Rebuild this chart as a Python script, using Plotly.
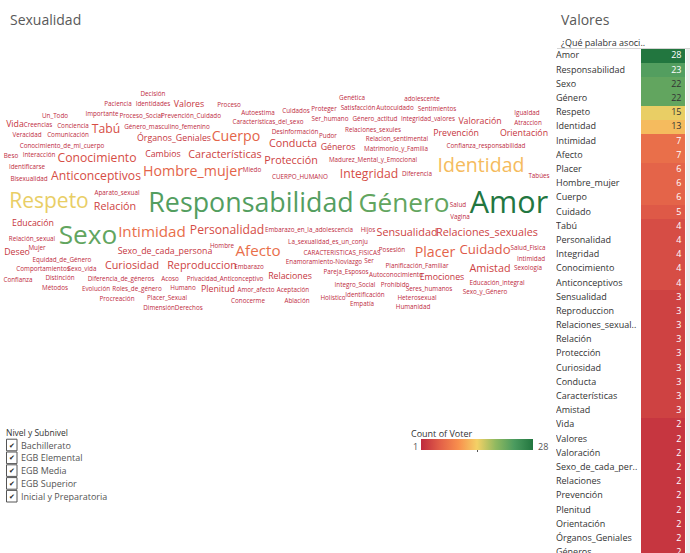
import numpy as np
import plotly.graph_objects as go
from plotly.colors import sample_colorscale

# ---------------- DATA ----------------
# Word cloud: words and their vote counts
cloud_words = [
    "Amor", "Responsabilidad", "Sexo", "Género", "Respeto", "Identidad",
    "Intimidad", "Afecto", "Placer", "Hombre_mujer", "Cuerpo", "Cuidado",
    "Tabú", "Personalidad", "Integridad", "Conocimiento", "Anticonceptivos",
    "Sensualidad", "Reproduccion", "Relaciones_sexuales", "Relación", "Protección",
    "Curiosidad", "Conducta", "Características", "Amistad",
    "Vida", "Valores", "Valoración", "Sexo_de_cada_persona", "Relaciones",
    "Prevención", "Plenitud", "Orientación", "Órganos_Geniales", "Géneros",
    "Emociones", "Educación", "Deseo", "Cambios",
    "Decisión", "Paciencia", "Identidades", "Proceso", "Un_Todo", "Importante",
    "Proceso_Social", "Prevención_Cuidado", "Autoestima", "Creencias", "Conciencia",
    "Género_masculino_femenino", "Características_del_sexo", "Veracidad",
    "Comunicación", "Conocimiento_de_mi_cuerpo", "Beso", "Interacción",
    "Identificarse", "Miedo", "Bisexualidad", "Genética", "adolescente",
    "Cuidados", "Proteger", "Satisfacción", "Autocuidado", "Sentimientos",
    "Igualdad", "Ser_humano", "Género_actitud", "Integridad_valores", "Atraccion",
    "Desinformación", "Pudor", "Relaciones_sexules", "Relacion_sentimental",
    "Matrimonio_y_Familia", "Confianza_responsabilidad", "Madurez_Mental_y_Emocional",
    "Tabúes", "CUERPO_HUMANO", "Diferencia", "Aparato_sexual", "Relación_sexual",
    "Embarazo_en_la_adolescencia", "Mujer", "Hombre", "Equidad_de_Género",
    "Embarazo", "Comportamientos", "Sexo_vida", "Confianza", "Distinción",
    "Diferencia_de_géneros", "Acoso", "Privacidad_Anticonceptivo", "Métodos",
    "Evolución", "Roles_de_género", "Humano", "Amor_afecto", "Procreación",
    "Placer_Sexual", "Conocerme", "DimensiónDerechos", "Salud", "Vagina", "Hijos",
    "La_sexualidad_es_un_conju", "CARACTERISTICAS_FISICAS", "Posesión",
    "Salud_Fisica", "Intimidad ", "Enamoramiento-Noviazgo", "Ser",
    "Planificación_Familiar", "Sexología", "Pareja_Esposos", "Autoconocimiento",
    "Educación_integral", "Integro_Social", "Prohibido", "Seres_humanos",
    "Sexo_y_Género", "Aceptación", "Ablación", "Holístico", "Identificación",
    "Heterosexual", "Empatía", "Humanidad",
]
cloud_counts = (
    [28, 23, 22, 22, 15, 13, 7, 7, 6, 6, 6, 5, 4, 4, 4, 4, 4,
     3, 3, 3, 3, 3, 3, 3, 3, 3,
     2, 2, 2, 2, 2, 2, 2, 2, 2, 2, 2, 2, 2, 2]
    + [1] * 92
)

# Table (sorted list of the most voted words)
table_labels = [
    "Amor", "Responsabilidad", "Sexo", "Género", "Respeto", "Identidad",
    "Intimidad", "Afecto", "Placer", "Hombre_mujer", "Cuerpo", "Cuidado",
    "Tabú", "Personalidad", "Integridad", "Conocimiento", "Anticonceptivos",
    "Sensualidad", "Reproduccion", "Relaciones_sexual..", "Relación", "Protección",
    "Curiosidad", "Conducta", "Características", "Amistad", "Vida", "Valores",
    "Valoración", "Sexo_de_cada_per..", "Relaciones", "Prevención", "Plenitud",
    "Orientación", "Órganos_Geniales", "Géneros",
]
table_counts = [28, 23, 22, 22, 15, 13, 7, 7, 6, 6, 6, 5, 4, 4, 4, 4, 4,
                3, 3, 3, 3, 3, 3, 3, 3, 3, 2, 2, 2, 2, 2, 2, 2, 2, 2, 2]

filter_title = "Nivel y Subnivel"
filter_items = ["Bachillerato", "EGB Elemental", "EGB Media", "EGB Superior",
                "Inicial y Preparatoria"]

# ---------------- LAYOUT (word-cloud placement, pixels) ----------------
cloud_xy = [
    (509, 205), (251, 205), (88, 237), (404, 205), (49, 203), (481, 167),
    (152, 233), (258, 252), (435, 253), (193, 172), (236, 137), (485, 251),
    (106, 130), (227, 231), (369, 175), (97, 159), (96, 177),
    (407, 233), (202, 266), (487, 233), (115, 207), (291, 161),
    (132, 266), (293, 144), (225, 155), (490, 269),
    (15, 125), (189, 105), (480, 122), (165, 252), (290, 277),
    (456, 134), (218, 290), (524, 134), (174, 139), (338, 148),
    (442, 278), (33, 224), (17, 253), (163, 155),
    (153, 94), (118, 104), (153, 104), (229, 105), (55, 116), (102, 114),
    (141, 116), (191, 116), (258, 113), (38, 125), (73, 126),
    (167, 127), (268, 122), (27, 135),
    (68, 135), (62, 146), (11, 156), (39, 155),
    (27, 167), (252, 170), (29, 179), (352, 98), (422, 99),
    (296, 111), (324, 109), (358, 108), (395, 108), (437, 109),
    (527, 113), (330, 119), (375, 119), (428, 119), (528, 123),
    (295, 132), (328, 136), (373, 130), (397, 139),
    (396, 149), (486, 146), (373, 160),
    (539, 176), (300, 177), (417, 174), (117, 193), (32, 239),
    (309, 230), (37, 248), (222, 246), (62, 260),
    (249, 267), (43, 269), (82, 269), (18, 280), (60, 278),
    (121, 279), (170, 279), (225, 279), (55, 288),
    (96, 289), (137, 289), (183, 288), (256, 290), (117, 299),
    (167, 298), (248, 301), (173, 308), (458, 205), (460, 217), (368, 230),
    (328, 242), (342, 253), (392, 250),
    (528, 248), (531, 259), (324, 262), (369, 261),
    (417, 266), (528, 268), (346, 272), (396, 275),
    (497, 283), (355, 285), (395, 285), (429, 289),
    (485, 292), (293, 290), (297, 301), (333, 298), (365, 295),
    (417, 298), (362, 304), (413, 307),
]

# ---------------- STYLE ----------------
FONT = "Open Sans"
palette = ["#be2a3e", "#e25f48", "#f88f4d", "#f4d166", "#90b960", "#4b9b5f", "#22763f"]
colorscale = [[i / (len(palette) - 1), c] for i, c in enumerate(palette)]
cmin, cmax = 1, 28
size_anchor_counts = [1, 2, 3, 4, 7, 15, 22, 23, 28]
size_anchor_px = [6.3, 8.8, 10.8, 12.2, 15.2, 21, 26.2, 26.8, 30.5]

W, H = 690, 553


def color_of(v):
    return sample_colorscale(colorscale, [(v - cmin) / (cmax - cmin)])[0]


fig = go.Figure()

# Word cloud
wx = [p[0] for p in cloud_xy]
wy = [p[1] for p in cloud_xy]
sizes = list(np.interp(cloud_counts, size_anchor_counts, size_anchor_px))
colors = [color_of(c) for c in cloud_counts]
fig.add_trace(go.Scatter(
    x=wx, y=wy, mode="text", text=[w.strip() for w in cloud_words],
    textposition="middle center",
    textfont=dict(family=FONT, size=sizes, color=colors),
    hoverinfo="text", hovertext=[f"{w}: {c}" for w, c in zip(cloud_words, cloud_counts)],
    showlegend=False, xaxis="x", yaxis="y",
))

# Table heat column
n = len(table_labels)
rows = list(range(n))
fig.add_trace(go.Heatmap(
    z=[[v] for v in table_counts], x=[0], y=rows,
    colorscale=colorscale, zmin=cmin, zmax=cmax,
    xgap=0, ygap=0, xaxis="x2", yaxis="y2", hoverinfo="skip",
    colorbar=dict(
        orientation="h", x=(421 + 533) / 2 / W, xanchor="center",
        y=1 - 452 / H, yanchor="bottom", len=112 / W, lenmode="fraction",
        thickness=11, thicknessmode="pixels", outlinewidth=0,
        xpad=0, ypad=0, tickvals=[14.5], ticks="outside", ticklen=2,
        tickcolor="#555", showticklabels=False,
    ),
))
# Numbers in cells
fig.add_trace(go.Scatter(
    x=[0.42] * n, y=rows, mode="text", text=[str(v) for v in table_counts],
    textposition="middle left",
    textfont=dict(family=FONT, size=9,
                  color=["#333333" if 8 <= v <= 22 else "white" for v in table_counts]),
    hoverinfo="skip", showlegend=False, xaxis="x2", yaxis="y2",
))
# Row labels
fig.add_trace(go.Scatter(
    x=[0] * n, y=rows, mode="text", text=table_labels,
    textposition="middle right",
    textfont=dict(family=FONT, size=9, color="#333333"),
    hoverinfo="skip", showlegend=False, xaxis="x3", yaxis="y2",
))

top_px = 49
fig.update_layout(
    width=W, height=H, margin=dict(l=0, r=0, t=0, b=0),
    paper_bgcolor="white", plot_bgcolor="white",
    font=dict(family=FONT, color="#333333"),
    xaxis=dict(domain=[0, 1], range=[0, W], visible=False, fixedrange=True),
    yaxis=dict(domain=[0, 1], range=[H, 0], visible=False, fixedrange=True),
    xaxis2=dict(domain=[641 / W, 685 / W], range=[-0.5, 0.5], visible=False, anchor="y2"),
    yaxis2=dict(domain=[0, 1 - top_px / H], range=[n - 1, -0.5], visible=False, anchor="x2"),
    xaxis3=dict(domain=[556 / W, 641 / W], range=[0, 1], visible=False, anchor="y2"),
    showlegend=False,
)

# Table decoration
fig.add_shape(type="rect", xref="x", yref="y", x0=686, x1=690, y0=top_px, y1=H,
              fillcolor="#eeeeee", line_width=0, layer="below")
fig.add_shape(type="line", xref="x", yref="y", x0=557, x1=690, y0=48.5, y1=48.5,
              line=dict(color="#d4d4d4", width=1))

ann = []
ann.append(dict(x=8, y=19, text="Sexualidad", font=dict(size=14, color="#595959")))
ann.append(dict(x=559, y=19, text="Valores", font=dict(size=14, color="#595959")))
ann.append(dict(x=559, y=42, text="¿Qué palabra asoci..", font=dict(size=9, color="#333333")))
# colour legend
ann.append(dict(x=409, y=433, text="Count of Voter", font=dict(size=9, color="#333333")))
ann.append(dict(x=411, y=446.5, text=str(cmin), font=dict(size=9, color="#555555")))
ann.append(dict(x=536, y=446.5, text=str(cmax), font=dict(size=9, color="#555555")))
# filter list
ann.append(dict(x=4, y=432, text=filter_title, font=dict(size=8.5, color="#333333")))
item_y0, item_dy = 445, 12.8
for i, item in enumerate(filter_items):
    cy = item_y0 + i * item_dy
    fig.add_shape(type="rect", xref="x", yref="y", x0=6.5, x1=17, y0=cy - 5.8, y1=cy + 5.8,
                  line=dict(color="#555555", width=1), fillcolor="white")
    ann.append(dict(x=11.8, y=cy, text="✔", xanchor="center",
                    font=dict(size=7, color="#222222")))
    ann.append(dict(x=19, y=cy, text=item, font=dict(size=9, color="#555555")))

for a in ann:
    a.setdefault("xanchor", "left")
    fig.add_annotation(xref="x", yref="y", yanchor="middle", showarrow=False,
                       font_family=FONT, **a)

fig.write_html("out.html", config={"displayModeBar": False},
               post_script="document.body.style.margin='0';")
